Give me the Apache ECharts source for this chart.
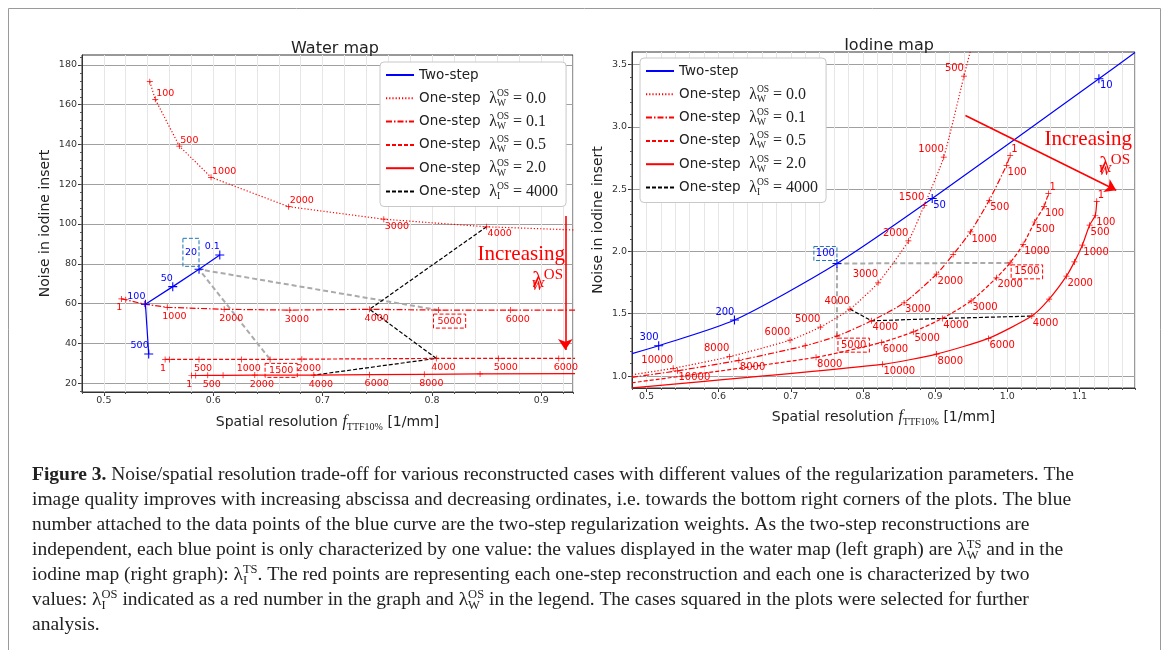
<!DOCTYPE html>
<html>
<head>
<meta charset="utf-8">
<script src="https://cdn.jsdelivr.net/npm/echarts@6/dist/echarts.min.js"></script>
<style>
  html, body { margin: 0; padding: 0; background: #fff; }
  #chart { width: 1168px; height: 650px; }
</style>
</head>
<body>
<div id="chart"></div>
<script>
// ---------- Water map (left) ----------
var wTwoX = [0.606, 0.587, 0.563, 0.538, 0.541];
var wTwoY = [84.4, 77.2, 68.5, 59.6, 34.6];
var wTwoLab = ['0.1', '20', '50', '100', '500'];

var wOs00X = [0.542, 0.547, 0.569, 0.598, 0.669, 0.756, 0.850, 0.950];
var wOs00Y = [171.6, 162.7, 139.2, 123.5, 108.7, 102.4, 98.6, 96.6];
var wOs00Lab = ['', '100', '500', '1000', '2000', '3000', '4000', null];

var wOs01X = [0.516, 0.520, 0.537, 0.558, 0.610, 0.670, 0.743, 0.806, 0.872, 0.950];
var wOs01Y = [62.3, 61.9, 59.7, 58.1, 57.1, 56.7, 57.1, 56.7, 56.7, 56.7];
var wOs01Lab = ['1', '', '', '1000', '2000', '3000', '4000', '5000', '6000', null];

var wOs05X = [0.556, 0.560, 0.587, 0.626, 0.652, 0.681, 0.804, 0.861, 0.916, 0.950];
var wOs05Y = [31.9, 31.9, 31.9, 31.9, 31.9, 32.0, 32.4, 32.4, 32.4, 32.4];
var wOs05Lab = ['1', '', '500', '1000', '1500', '2000', '4000', '5000', '6000', null];

var wOs20X = [0.580, 0.584, 0.595, 0.609, 0.638, 0.692, 0.743, 0.793, 0.844, 0.950];
var wOs20Y = [23.8, 23.8, 23.9, 23.9, 24.0, 24.0, 24.2, 24.4, 24.6, 24.8];
var wOs20Lab = ['1', '', '500', '', '2000', '4000', '6000', '8000', '', null];

// ---------- Iodine map (right) ----------
var iTwoX = [0.480, 0.517, 0.622, 0.764, 0.896, 1.127, 1.177];
var iTwoY = [1.18, 1.243, 1.449, 1.903, 2.424, 3.385, 3.596];
var iTwoLab = [null, '300', '200', '100', '50', '10', null];

var iOs00X = [0.480, 0.537, 0.615, 0.699, 0.741, 0.782, 0.821, 0.863, 0.885, 0.912, 0.940, 0.953];
var iOs00Y = [1.01, 1.062, 1.155, 1.288, 1.393, 1.537, 1.748, 2.084, 2.37, 2.757, 3.406, 3.70];
var iOs00Lab = [null, '10000', '8000', '6000', '5000', '4000', '3000', '2000', '1500', '1000', '500', null];

var iOs01X = [0.480, 0.543, 0.628, 0.720, 0.764, 0.812, 0.857, 0.902, 0.925, 0.949, 0.975, 0.999, 1.004];
var iOs01Y = [0.99, 1.042, 1.126, 1.243, 1.32, 1.443, 1.587, 1.817, 1.975, 2.156, 2.41, 2.691, 2.771];
var iOs01Lab = [null, '10000', '8000', '', '5000', '4000', '3000', '2000', '', '1000', '500', '100', '1'];

var iOs05X = [0.480, 0.735, 0.826, 0.870, 0.910, 0.950, 0.985, 1.004, 1.022, 1.038, 1.051, 1.057];
var iOs05Y = [0.946, 1.15, 1.27, 1.355, 1.462, 1.603, 1.788, 1.908, 2.055, 2.236, 2.362, 2.464];
var iOs05Lab = [null, '8000', '6000', '5000', '4000', '3000', '2000', '1500', '1000', '500', '100', '1'];

var iOs20X = [0.480, 0.827, 0.902, 0.974, 1.034, 1.058, 1.082, 1.093, 1.104, 1.114, 1.122, 1.124];
var iOs20Y = [0.905, 1.094, 1.176, 1.302, 1.481, 1.617, 1.801, 1.916, 2.05, 2.21, 2.29, 2.402];
var iOs20Lab = [null, '10000', '8000', '6000', '4000', '', '2000', '', '1000', '500', '100', '1'];

// arrows "Increasing lambda_W^OS" (data coords)
var wArrowX = [0.922, 0.922], wArrowY = [104, 36.6];
var iArrowX = [0.942, 1.151], iArrowY = [3.091, 2.49];

// tick labels
var wXTicks = [0.5, 0.6, 0.7, 0.8, 0.9];
var wYTicks = [20, 40, 60, 80, 100, 120, 140, 160, 180];
var iXTicks = [0.5, 0.6, 0.7, 0.8, 0.9, 1.0, 1.1];
var iYTicks = [1.0, 1.5, 2.0, 2.5, 3.0, 3.5];

var NAMES = ['Two-step', 'os00', 'os01', 'os05', 'os20', 'osI'];
var legendText = {
  'Two-step': 'Two-step',
  'os00': 'One-step  {l|λ}{sb|W}{sp|OS}{m| = 0.0}',
  'os01': 'One-step  {l|λ}{sb|W}{sp|OS}{m| = 0.1}',
  'os05': 'One-step  {l|λ}{sb|W}{sp|OS}{m| = 0.5}',
  'os20': 'One-step  {l|λ}{sb|W}{sp|OS}{m| = 2.0}',
  'osI':  'One-step  {l|λ}{sb|I}{sp|OS}{m| = 4000}'
};

var captionLines = [
  '{b|Figure 3.} Noise/spatial resolution trade-off for various reconstructed cases with different values of the regularization parameters. The',
  'image quality improves with increasing abscissa and decreasing ordinates, i.e. towards the bottom right corners of the plots. The blue',
  'number attached to the data points of the blue curve are the two-step regularization weights. As the two-step reconstructions are',
  'independent, each blue point is only characterized by one value: the values displayed in the water map (left graph) are {l|λ}{sb|W}{sp|TS} and in the',
  'iodine map (right graph): {l|λ}{sb|I}{sp|TS}. The red points are representing each one-step reconstruction and each one is characterized by two',
  'values: {l|λ}{sb|I}{sp|OS} indicated as a red number in the graph and {l|λ}{sb|W}{sp|OS} in the legend. The cases squared in the plots were selected for further',
  'analysis.'
];

var RED = '#ff0000', BLUE = '#0000ff';
var PLUS = 'path://M4.4,0H5.6V4.4H10V5.6H5.6V10H4.4V5.6H0V4.4H4.4Z';
var SANS = 'DejaVu Sans', SERIF = 'Liberation Serif';

function range(a, b, step) {
  var out = [];
  for (var v = a; v <= b + 1e-9; v += step) out.push(+v.toFixed(4));
  return out;
}

function place(code) {
  if (code === 'ar') return { align: 'left', verticalAlign: 'bottom', offset: [1, -1] };
  if (code === 'br') return { align: 'left', verticalAlign: 'top', offset: [1, 2] };
  if (code === 'al') return { align: 'right', verticalAlign: 'bottom', offset: [0, -3] };
  return { align: 'left', verticalAlign: 'top', offset: [-5, 4] }; // 'b'
}

// build data items from arrays; null label -> line point only
function pts(xs, ys, labs, cfg) {
  return xs.map(function (x, i) {
    var lab = labs[i];
    var item = { value: [x, ys[i]] };
    if (lab === null) { item.symbol = 'none'; return item; }
    if (lab !== '') {
      var p = place((cfg.over && cfg.over[lab]) || cfg.pos);
      var l = {
        show: true, formatter: lab, position: 'inside',
        align: p.align, verticalAlign: p.verticalAlign, offset: p.offset,
        color: cfg.color, fontSize: cfg.fontSize, fontFamily: SANS
      };
      if (cfg.box && cfg.box[lab]) {
        l.borderColor = cfg.boxColor || cfg.color;
        l.borderWidth = 1;
        l.borderType = [4, 2];
        l.padding = cfg.box[lab];
      }
      item.label = l;
    }
    return item;
  });
}

function find(xs, ys, labs, lab) {
  var i = labs.indexOf(lab);
  return [xs[i], ys[i]];
}

function lineSeries(name, gi, data, color, dash, symSize, smooth) {
  return {
    name: name, type: 'line', xAxisIndex: gi * 2, yAxisIndex: gi * 2,
    data: data, symbol: PLUS, symbolSize: symSize, showAllSymbol: true,
    smooth: smooth || false, silent: true, z: 3,
    itemStyle: { color: color },
    lineStyle: { color: color, width: 1.2, type: dash },
    label: { show: false }
  };
}

function connector(name, gi, data, color, dash, width) {
  return {
    name: name, type: 'line', xAxisIndex: gi * 2, yAxisIndex: gi * 2,
    data: data, symbol: 'none', silent: true, z: 2,
    lineStyle: { color: color, width: width, type: dash }
  };
}

function arrow(gi, xs, ys) {
  return {
    name: 'arrow' + gi, type: 'line', xAxisIndex: gi * 2, yAxisIndex: gi * 2,
    data: [], silent: true,
    markLine: {
      silent: true, symbol: ['none', 'arrow'], symbolSize: 11, animation: false,
      label: { show: false },
      lineStyle: { color: RED, width: 1.6, type: 'solid' },
      data: [[{ coord: [xs[0], ys[0]] }, { coord: [xs[1], ys[1]] }]]
    }
  };
}

var DOT = [1.2, 2], DASHDOT = [6, 2, 1.5, 2], DASH = [4, 2];

var wBlue = pts(wTwoX, wTwoY, wTwoLab, { pos: 'al', color: BLUE, fontSize: 9.5, box: { '20': [9, 2, 9, 2] }, boxColor: '#1f77b4' });
var w00 = pts(wOs00X, wOs00Y, wOs00Lab, { pos: 'ar', over: { '3000': 'br', '4000': 'br' }, color: RED, fontSize: 9.5 });
var w01 = pts(wOs01X, wOs01Y, wOs01Lab, { pos: 'b', color: RED, fontSize: 9.5, box: { '5000': [2, 4, 2, 4] } });
var w05 = pts(wOs05X, wOs05Y, wOs05Lab, { pos: 'b', color: RED, fontSize: 9.5, box: { '1500': [2, 4, 2, 4] } });
var w20 = pts(wOs20X, wOs20Y, wOs20Lab, { pos: 'b', color: RED, fontSize: 9.5 });

var iBlue = pts(iTwoX, iTwoY, iTwoLab, { pos: 'al', over: { '50': 'br', '10': 'br' }, color: BLUE, fontSize: 10, box: { '100': [2, 2, 2, 2] }, boxColor: '#1f77b4' });
var i00 = pts(iOs00X, iOs00Y, iOs00Lab, { pos: 'al', color: RED, fontSize: 10 });
var i01 = pts(iOs01X, iOs01Y, iOs01Lab, { pos: 'br', over: { '1': 'ar' }, color: RED, fontSize: 10, box: { '5000': [2, 3, 2, 3] } });
var i05 = pts(iOs05X, iOs05Y, iOs05Lab, { pos: 'br', over: { '1': 'ar' }, color: RED, fontSize: 10, box: { '1500': [2, 3, 2, 3] } });
var i20 = pts(iOs20X, iOs20Y, iOs20Lab, { pos: 'br', over: { '1': 'ar' }, color: RED, fontSize: 10 });

// lambda_I^OS = 4000 connectors
var wBlack = [find(wOs00X, wOs00Y, wOs00Lab, '4000'), find(wOs01X, wOs01Y, wOs01Lab, '4000'),
              find(wOs05X, wOs05Y, wOs05Lab, '4000'), find(wOs20X, wOs20Y, wOs20Lab, '4000')];
var iBlack = [find(iOs00X, iOs00Y, iOs00Lab, '4000'), find(iOs01X, iOs01Y, iOs01Lab, '4000'),
              find(iOs05X, iOs05Y, iOs05Lab, '4000'), find(iOs20X, iOs20Y, iOs20Lab, '4000')];
// selected cases (gray)
var wGray = [find(wOs01X, wOs01Y, wOs01Lab, '5000'), find(wTwoX, wTwoY, wTwoLab, '20'), find(wOs05X, wOs05Y, wOs05Lab, '1500')];
var iGray = [find(iOs01X, iOs01Y, iOs01Lab, '5000'), find(iTwoX, iTwoY, iTwoLab, '100'), find(iOs05X, iOs05Y, iOs05Lab, '1500')];

function mainX(gi, min, max, ticks, name, gap) {
  return {
    type: 'value', gridIndex: gi, min: min, max: max, position: 'bottom',
    axisLine: { show: true, onZero: false, lineStyle: { color: '#333', width: 1 } },
    axisTick: { show: true, customValues: ticks, length: 4, lineStyle: { color: '#333' } },
    axisLabel: { customValues: ticks, formatter: function (v) { return v.toFixed(1); },
      fontSize: 9.5, fontFamily: SANS, color: '#333', margin: 4 },
    splitLine: { show: true, lineStyle: { color: '#d6d6d6', width: 1 } },
    name: name, nameLocation: 'middle', nameGap: gap,
    nameTextStyle: {
      fontFamily: SANS, fontSize: 14, color: '#222', lineHeight: 20,
      rich: {
        f: { fontFamily: SERIF, fontStyle: 'italic', fontSize: 16, color: '#222', lineHeight: 20 },
        s: { fontFamily: SERIF, fontSize: 10, color: '#222', lineHeight: 10, verticalAlign: 'bottom' }
      }
    }
  };
}
function minorX(gi, min, max) {
  return {
    type: 'value', gridIndex: gi, min: min, max: max, interval: 0.02, position: 'bottom',
    axisLine: { show: false }, axisLabel: { show: false },
    axisTick: { show: true, length: 2, lineStyle: { color: '#555' } },
    splitLine: { show: true, lineStyle: { color: '#e6e6e6', width: 1 } }
  };
}
function mainY(gi, min, max, ticks, dec, gap) {
  return {
    type: 'value', gridIndex: gi, min: min, max: max, position: 'left',
    axisLine: { show: true, onZero: false, lineStyle: { color: '#333', width: 1 } },
    axisTick: { show: true, customValues: ticks, length: 4, lineStyle: { color: '#333' } },
    axisLabel: { customValues: ticks, formatter: function (v) { return v.toFixed(dec); },
      fontSize: 9.5, fontFamily: SANS, color: '#333', margin: 5 },
    splitLine: { show: true, lineStyle: { color: '#a0a0a0', width: 1 } },
    name: 'Noise in iodine insert', nameLocation: 'middle', nameGap: gap,
    nameTextStyle: { fontFamily: SANS, fontSize: 14, color: '#222' }
  };
}
function minorY(gi, min, max, ticks) {
  return {
    type: 'value', gridIndex: gi, min: min, max: max, position: 'left',
    axisLine: { show: false }, axisLabel: { show: false },
    axisTick: { show: true, customValues: ticks, length: 2, lineStyle: { color: '#555' } },
    splitLine: { show: false }
  };
}

var lamRich = {
  l: { fontFamily: SERIF, fontSize: 16, color: '#222', lineHeight: 20 },
  sb: { fontFamily: SERIF, fontSize: 9.5, color: '#222', lineHeight: 9, verticalAlign: 'bottom', width: 0 },
  sp: { fontFamily: SERIF, fontSize: 9.5, color: '#222', lineHeight: 9, verticalAlign: 'top' },
  m: { fontFamily: SERIF, fontSize: 16, color: '#222', lineHeight: 20 }
};

function legendAt(left, top) {
  return {
    data: NAMES, orient: 'vertical', left: left, top: top,
    itemWidth: 28, itemHeight: 12, itemGap: 3.3,
    padding: [3, 8, 5, 5],
    backgroundColor: '#fff', borderColor: '#c8c8c8', borderWidth: 1, borderRadius: 4,
    selectedMode: false,
    itemStyle: { opacity: 0 },
    formatter: function (n) { return legendText[n]; },
    textStyle: { fontFamily: SANS, fontSize: 13.5, color: '#222', lineHeight: 20, rich: lamRich }
  };
}

var annRich = {
  l: { fontFamily: SERIF, fontSize: 24, fill: RED, lineHeight: 26 },
  sb: { fontFamily: SERIF, fontStyle: 'italic', fontSize: 15, fill: RED, lineHeight: 13, verticalAlign: 'bottom', width: 0 },
  sp: { fontFamily: SERIF, fontSize: 15, fill: RED, lineHeight: 13, verticalAlign: 'top' }
};
var capRich = {
  b: { fontFamily: SERIF, fontWeight: 'bold', fontSize: 19.5, fill: '#222', lineHeight: 24 },
  l: { fontFamily: SERIF, fontSize: 19.5, fill: '#222', lineHeight: 24 },
  sb: { fontFamily: SERIF, fontSize: 12.5, fill: '#222', lineHeight: 12, verticalAlign: 'bottom', width: 0 },
  sp: { fontFamily: SERIF, fontSize: 12.5, fill: '#222', lineHeight: 12, verticalAlign: 'top' }
};

var graphics = [{
  type: 'rect', silent: true, z: -10,
  shape: { x: 8.5, y: 8.5, width: 1152, height: 700 },
  style: { fill: 'none', stroke: '#9a9a9a', lineWidth: 1 }
}];
function annot(x, y, text) {
  graphics.push({ type: 'text', silent: true, z: 50,
    style: { x: x, y: y, text: text, font: '21px "Liberation Serif"', fill: RED, align: 'right', verticalAlign: 'middle', rich: annRich } });
}
annot(565, 254, 'Increasing');
annot(563, 281, '{l|λ}{sb|W}{sp|OS}');
annot(1132, 139, 'Increasing');
annot(1130, 166, '{l|λ}{sb|W}{sp|OS}');
captionLines.forEach(function (t, k) {
  graphics.push({ type: 'text', silent: true,
    style: { x: 32, y: 475 + k * 25, text: t, font: '19.5px "Liberation Serif"', fill: '#222',
      verticalAlign: 'middle', rich: capRich } });
});

var option = {
  animation: false,
  backgroundColor: '#fff',
  title: [
    { text: 'Water map', left: 330, top: 36, textAlign: 'center',
      textStyle: { fontFamily: SANS, fontSize: 16, fontWeight: 'normal', color: '#222' } },
    { text: 'Iodine map', left: 884, top: 33, textAlign: 'center',
      textStyle: { fontFamily: SANS, fontSize: 16, fontWeight: 'normal', color: '#222' } }
  ],
  grid: [
    { left: 82, top: 55, width: 491, height: 337, show: true, borderColor: '#333', borderWidth: 1, backgroundColor: 'transparent' },
    { left: 632, top: 52, width: 503, height: 336, show: true, borderColor: '#333', borderWidth: 1, backgroundColor: 'transparent' }
  ],
  xAxis: [
    mainX(0, 0.48, 0.929, wXTicks, 'Spatial resolution {f|f}{s|TTF10%} [1/mm]', 20),
    minorX(0, 0.48, 0.929),
    mainX(1, 0.48, 1.177, iXTicks, 'Spatial resolution {f|f}{s|TTF10%} [1/mm]', 19),
    minorX(1, 0.48, 1.177)
  ],
  yAxis: [
    mainY(0, 15.5, 185, wYTicks, 0, 30),
    minorY(0, 15.5, 185, range(16, 184, 4)),
    mainY(1, 0.904, 3.6, iYTicks, 1, 27),
    minorY(1, 0.904, 3.6, range(1.0, 3.5, 0.1))
  ],
  legend: [legendAt(380, 62), legendAt(640, 58)],
  graphic: graphics,
  series: [
    connector('grayW', 0, wGray, '#aaaaaa', [5, 3], 2),
    connector('grayI', 1, iGray, '#aaaaaa', [5, 3], 2),
    connector('osI', 0, wBlack, '#000', DASH, 1.2),
    connector('osI', 1, iBlack, '#000', DASH, 1.2),
    lineSeries('os00', 0, w00, RED, DOT, 6),
    lineSeries('os01', 0, w01, RED, DASHDOT, 6),
    lineSeries('os05', 0, w05, RED, DASH, 6),
    lineSeries('os20', 0, w20, RED, 'solid', 6),
    lineSeries('Two-step', 0, wBlue, BLUE, 'solid', 9),
    lineSeries('os00', 1, i00, RED, DOT, 6, 0.2),
    lineSeries('os01', 1, i01, RED, DASHDOT, 6, 0.2),
    lineSeries('os05', 1, i05, RED, DASH, 6, 0.2),
    lineSeries('os20', 1, i20, RED, 'solid', 6, 0.2),
    lineSeries('Two-step', 1, iBlue, BLUE, 'solid', 9, 0.25),
    arrow(0, wArrowX, wArrowY),
    arrow(1, iArrowX, iArrowY)
  ]
};

var chart = echarts.init(document.getElementById('chart'));
chart.setOption(option);
</script>
</body>
</html>
